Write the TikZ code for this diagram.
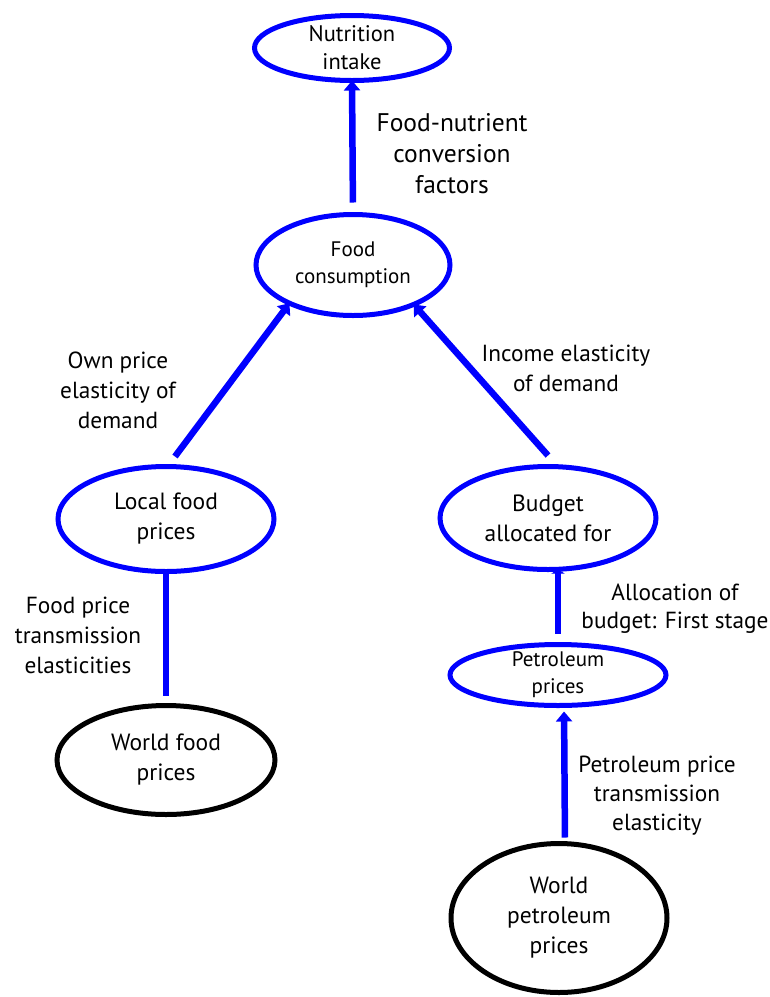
\documentclass[tikz,border=0pt]{standalone}
\usepackage{fontspec}
\setmainfont{PT Sans}
\usetikzlibrary{shapes.geometric,arrows.meta}
\begin{document}
\begin{tikzpicture}[x=1pt,y=-1pt,
  ell/.style={ellipse, draw=blue, line width=5pt, inner sep=0pt, outer sep=0pt},
  blk/.style={ell, draw=black},
  ntext/.style={align=center, inner sep=0pt, font=\fontsize{23.5}{30}\selectfont},
  stext/.style={align=center, inner sep=0pt, font=\fontsize{21}{27}\selectfont},
  arr/.style={draw=blue, line width=6.5pt, -{Triangle[length=10pt,width=16pt]}},
  arrsm/.style={draw=blue, line width=6.5pt, -{Triangle[length=4pt,width=13pt]}},
  lnk/.style={draw=blue, line width=6.5pt},
  lbl/.style={align=center, inner sep=0pt, font=\fontsize{23.3}{30}\selectfont}]
\useasboundingbox (0,0) rectangle (770,997);

% nodes
\node[ell, minimum width=195pt, minimum height=65pt,
  label={[ntext, font=\fontsize{22.5}{28}\selectfont]center:Nutrition\\intake}] (ni) at (352,48) {};
\node[ell, minimum width=194pt, minimum height=101pt,
  label={[stext]center:Food\\consumption}] (fc) at (353,265) {};
\node[ell, minimum width=216pt, minimum height=105pt,
  label={[ntext]center:Local food\\prices}] (lf) at (166,519) {};
\node[blk, minimum width=218pt, minimum height=109pt,
  label={[ntext]center:World food\\prices}] (wf) at (166,760) {};
\node[ell, minimum width=216pt, minimum height=103pt,
  label={[ntext]center:Budget\\allocated for}] (bo) at (548,518) {};
\node[ell, minimum width=216pt, minimum height=61pt,
  label={[stext]center:Petroleum\\prices}] (pp) at (558,675) {};
\node[blk, minimum width=216pt, minimum height=149pt,
  label={[ntext]center:World\\petroleum\\prices}] (wp) at (559,918) {};

% edge labels
\node[lbl, font=\fontsize{25.5}{31}\selectfont] (t1) at (452,154) {Food-nutrient\\conversion\\factors};
\node[lbl] (t2) at (118,390) {Own price\\elasticity of\\demand};
\node[lbl] (t3) at (566,368) {Income elasticity\\of demand};
\node[lbl] (t4) at (78,635) {Food price\\transmission\\elasticities};
\node[lbl, font=\fontsize{23.3}{28}\selectfont] (t5) at (675,609) {Allocation of\\budget: First stage};
\node[lbl, font=\fontsize{23.3}{29}\selectfont] (t6) at (657,796) {Petroleum price\\transmission\\elasticity};

% connectors
\coordinate (s1) at ([shift={(9,-10)}]lf.north);
\coordinate (s2) at ([shift={(0,-11)}]bo.north);
\draw[arr, shorten <=12pt] (fc.north) -- (ni.south);
\draw[arr] (s1) -- (fc.211);
\draw[arr] (s2) -- (fc.327);
\draw[lnk, shorten >=10pt] (lf.south) -- (wf.north);
\draw[arrsm, shorten <=11pt] (pp.north) -- (pp.north |- bo.south);
\draw[arr, shorten <=6pt, shorten >=6pt] ([xshift=6pt]wp.north) -- ([xshift=6pt]pp.south);
\end{tikzpicture}
\end{document}
